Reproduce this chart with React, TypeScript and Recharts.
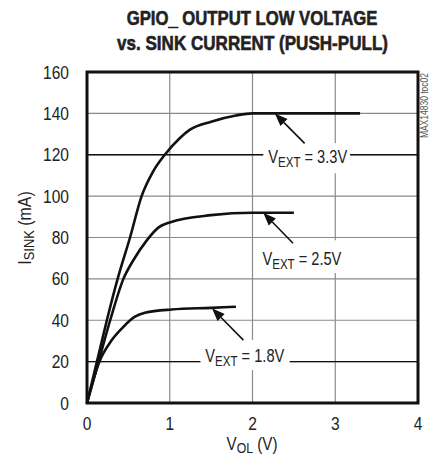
import React from "react";
import {
  LineChart,
  Line,
  XAxis,
  YAxis,
  CartesianGrid,
  ReferenceLine,
  ReferenceArea,
  ReferenceDot,
  Customized,
} from "recharts";

// V_EXT = 3.3V
const vol33 = [0, 0.12, 0.24, 0.37, 0.52, 0.66, 0.8, 0.94, 1.12, 1.24, 1.5, 1.8, 2.0, 2.5, 3.3];
const isink33 = [0, 20, 40, 60, 80, 100, 112, 120, 128, 132, 136, 139, 140, 140, 140];
// V_EXT = 2.5V
const vol25 = [0, 0.14, 0.28, 0.44, 0.56, 0.72, 0.87, 1.0, 1.5, 2.0, 2.5];
const isink25 = [0, 20, 40, 60, 69, 78.5, 85, 87.3, 90.8, 92, 92];
// V_EXT = 1.8V
const vol18 = [0, 0.14, 0.3, 0.42, 0.58, 0.7, 1.02, 1.5, 1.8];
const isink18 = [0, 19, 30.4, 36, 41.7, 43.6, 45.2, 46, 46.5];

const xTicks = [0, 1, 2, 3, 4];
const yTicks = [0, 20, 40, 60, 80, 100, 120, 140, 160];

const seriesNames = ["3.3V", "2.5V", "1.8V"];
// annotation: arrow tail/tip, label anchor, label box (data units)
const arrowTail = [[2.63, 125.5], [2.49, 77.2], [1.89, 30.4]];
const arrowTip = [[2.27, 140], [2.13, 92], [1.51, 45.8]];
const labelAnchor = [[2.19, 116], [2.12, 66.7], [1.43, 20]];
const labelBoxX = [[2.13, 3.18], [2.07, 3.06], [1.37, 2.45]];
const labelBoxY = [[111, 125.6], [62.8, 78.7], [16, 30.4]];
// leader line segments (y value, x from, x to)
const leaderY = [120, 120, 20, 20];
const leaderX = [[0, 2.13], [3.18, 4], [0, 1.37], [2.45, 4]];

const FONT = "'Liberation Sans', Arial, sans-serif";
const TXT = "#222";

const toData = (xs: number[], ys: number[]) => xs.map((v, k) => ({ v, i: ys[k] }));
const d33 = toData(vol33, isink33);
const d25 = toData(vol25, isink25);
const d18 = toData(vol18, isink18);

const ArrowShape = (props: any) => {
  const { x1, y1, x2, y2 } = props;
  if ([x1, y1, x2, y2].some((n) => typeof n !== "number")) return null;
  const dx = x2 - x1;
  const dy = y2 - y1;
  const len = Math.sqrt(dx * dx + dy * dy) || 1;
  const ux = dx / len;
  const uy = dy / len;
  const hl = 13;
  const hw = 5;
  const bx = x2 - ux * hl;
  const by = y2 - uy * hl;
  const p1 = `${x2},${y2}`;
  const p2 = `${bx - uy * hw},${by + ux * hw}`;
  const p3 = `${bx + uy * hw},${by - ux * hw}`;
  return (
    <g>
      <line x1={x1} y1={y1} x2={bx} y2={by} stroke="#111" strokeWidth={1.6} />
      <polygon points={`${p1} ${p2} ${p3}`} fill="#111" />
    </g>
  );
};

const makeLabelShape = (name: string) => (props: any) => {
  const { cx, cy } = props;
  if (typeof cx !== "number") return null;
  return (
    <g transform={`translate(${cx},${cy}) scale(0.77,1)`}>
      <text x={0} y={0} fontFamily={FONT} fontSize={19} fill={TXT}>
        <tspan>V</tspan>
        <tspan fontSize={15} dy={4}>EXT</tspan>
        <tspan dy={-4}>{` = ${name}`}</tspan>
      </text>
    </g>
  );
};

const XTick = (props: any) => {
  const { x, y, payload } = props;
  return (
    <g transform={`translate(${x},${y}) scale(0.84,1)`}>
      <text x={0} y={0} dy="0.71em" textAnchor="middle" fontFamily={FONT} fontSize={18.5} fill={TXT}>
        {payload.value}
      </text>
    </g>
  );
};

const YTick = (props: any) => {
  const { x, y, payload } = props;
  return (
    <g transform={`translate(${x},${y}) scale(0.84,1)`}>
      <text x={0} y={0} dy="0.355em" textAnchor="end" fontFamily={FONT} fontSize={18.5} fill={TXT}>
        {payload.value}
      </text>
    </g>
  );
};

const Texts = () => (
  <g fontFamily={FONT} fill={TXT}>
    <g transform="translate(252,25) scale(0.835,1)">
      <text x={0} y={0} textAnchor="middle" fontWeight="bold" fontSize={20} stroke={TXT} strokeWidth={0.6}>
        GPIO_ OUTPUT LOW VOLTAGE
      </text>
    </g>
    <g transform="translate(252.5,50) scale(0.853,1)">
      <text x={0} y={0} textAnchor="middle" fontWeight="bold" fontSize={20} stroke={TXT} strokeWidth={0.6}>
        vs. SINK CURRENT (PUSH-PULL)
      </text>
    </g>
    <g transform="translate(252,450) scale(0.82,1)">
      <text x={0} y={0} textAnchor="middle" fontSize={18.5}>
        <tspan>V</tspan>
        <tspan fontSize={15} dy={3}>OL</tspan>
        <tspan dy={-3}> (V)</tspan>
      </text>
    </g>
    <g transform="translate(31,228) rotate(-90) scale(0.86,1)">
      <text x={0} y={0} textAnchor="middle" fontSize={18.5}>
        <tspan>I</tspan>
        <tspan fontSize={15} dy={3}>SINK</tspan>
        <tspan dy={-3}> (mA)</tspan>
      </text>
    </g>
    <g transform="translate(428,73) rotate(-90) scale(0.85,1)">
      <text x={0} y={0} textAnchor="end" fontSize={10} fill="#555">
        MAX14830 toc02
      </text>
    </g>
  </g>
);

export default function App() {
  return (
    <div style={{ position: "absolute", left: 0, top: 0, background: "#fff" }}>
      <LineChart
        width={429}
        height={468}
        margin={{ top: 72, right: 11, left: 27, bottom: 35 }}
      >
        <CartesianGrid stroke="#8a8a8a" strokeWidth={1.2} />
        <XAxis
          dataKey="v"
          type="number"
          domain={[0, 4]}
          ticks={xTicks}
          allowDuplicatedCategory={false}
          height={30}
          axisLine={false}
          tickLine={false}
          tickSize={0}
          tickMargin={14}
          tick={<XTick />}
        />
        <YAxis
          type="number"
          domain={[0, 160]}
          ticks={yTicks}
          width={60}
          axisLine={false}
          tickLine={false}
          tickSize={0}
          tickMargin={18}
          tick={<YTick />}
        />
        {seriesNames.map((n, k) => (
          <ReferenceArea
            key={`box${n}`}
            x1={labelBoxX[k][0]}
            x2={labelBoxX[k][1]}
            y1={labelBoxY[k][0]}
            y2={labelBoxY[k][1]}
            fill="#fff"
            fillOpacity={1}
            stroke="none"
          />
        ))}
        {leaderY.map((y, k) => (
          <ReferenceLine
            key={`lead${k}`}
            segment={[
              { x: leaderX[k][0], y },
              { x: leaderX[k][1], y },
            ]}
            stroke="#111"
            strokeWidth={1.3}
          />
        ))}
        <Line data={d33} dataKey="i" type="monotone" stroke="#111" strokeWidth={2.6} dot={false} isAnimationActive={false} />
        <Line data={d25} dataKey="i" type="monotone" stroke="#111" strokeWidth={2.6} dot={false} isAnimationActive={false} />
        <Line data={d18} dataKey="i" type="monotone" stroke="#111" strokeWidth={2.6} dot={false} isAnimationActive={false} />
        {seriesNames.map((n, k) => (
          <ReferenceLine
            key={`arr${n}`}
            segment={[
              { x: arrowTail[k][0], y: arrowTail[k][1] },
              { x: arrowTip[k][0], y: arrowTip[k][1] },
            ]}
            shape={ArrowShape}
          />
        ))}
        {seriesNames.map((n, k) => (
          <ReferenceDot
            key={`lab${n}`}
            x={labelAnchor[k][0]}
            y={labelAnchor[k][1]}
            r={0}
            shape={makeLabelShape(n)}
          />
        ))}
        <ReferenceArea x1={0} x2={4} y1={0} y2={160} fill="none" stroke="#111" strokeWidth={3} />
        <Customized component={Texts} />
      </LineChart>
    </div>
  );
}
